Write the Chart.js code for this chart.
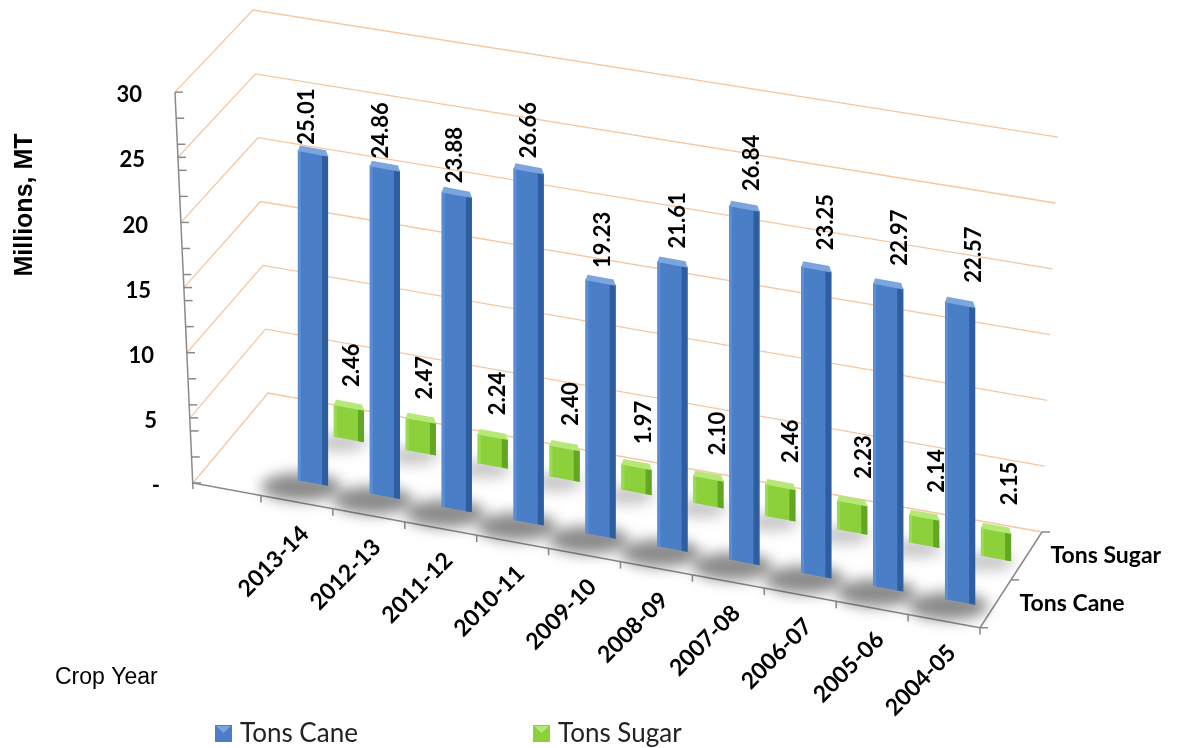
<!DOCTYPE html>
<html>
<head>
<meta charset="utf-8">
<title>Cane and sugar production by crop year</title>
<script src="https://cdn.jsdelivr.net/npm/chart.js@4.4.1/dist/chart.umd.min.js"></script>
<style>
  html, body { margin: 0; padding: 0; background: #fff; }
  canvas { display: block; }
</style>
</head>
<body>
<canvas id="chart" width="1184" height="748"></canvas>
<script>
"use strict";

var cropYears = ['2013-14', '2012-13', '2011-12', '2010-11', '2009-10',
                 '2008-09', '2007-08', '2006-07', '2005-06', '2004-05'];
var tonsCane  = [25.01, 24.86, 23.88, 26.66, 19.23, 21.61, 26.84, 23.25, 22.97, 22.57];
var tonsSugar = [2.46, 2.47, 2.24, 2.40, 1.97, 2.10, 2.46, 2.23, 2.14, 2.15];
var yMax = 30;
var yStep = 5;

var CANE = '#4A7EC6', CANE_SIDE = '#2F5E9E', CANE_TOP = '#7CA5DD', CANE_LIGHT = '#5A8ED4';
var SUGAR = '#8CD03C', SUGAR_SIDE = '#62A624', SUGAR_TOP = '#B6E878', SUGAR_LIGHT = '#9CDA52';
var GRID = '#F5C6A0', AXIS = '#8A8A8A';

var K = 0.184;          // slope of the floor on screen
var SUGAR_LIFT = 3.8;   // back row sits this many units higher
var FRONT_DROP = 22;    // front edge of the floor below the cane row
var EDGE_SHIFT = 34;    // front edge runs left of the category centres

function tickText(v) { return v === 0 ? '-' : String(v); }

// screen geometry of the box (walls, floor, front edge) built off the scales
function geo(chart) {
  var a = chart.chartArea;
  var ys = chart.scales.y;
  var w = (a.right - a.left) / chart.data.labels.length;
  var ax = a.left + w / 4;
  function u(v) { return a.bottom - ys.getPixelForValue(v); }
  return {
    a: a, w: w, ax: ax,
    front: function (v) { var h = u(v); return [a.left - 102 - 0.0455 * h, a.bottom - 0.987 * h]; },
    backL: function (v) { var h = u(v); return [a.left - 27 - 0.038 * h, a.bottom - 90 - 0.967 * h]; },
    backR: function (v) { var h = u(v); return [a.right + 28 + 0.04 * h, a.bottom + 49 - 0.997 * h]; },
    edgeY: function (x) { return a.bottom + FRONT_DROP + K * (x - ax); },
    sk: function (x, y) { return y + K * (x - ax); }
  };
}

function line(ctx, x1, y1, x2, y2) {
  ctx.beginPath(); ctx.moveTo(x1, y1); ctx.lineTo(x2, y2); ctx.stroke();
}

function decorateBar(ctx, el, side, top, light) {
  var l = el.x - el.width / 2, r = el.x + el.width / 2, t = el.y, b = el.base;
  ctx.fillStyle = side;
  ctx.fillRect(r - 6, t, 6, b - t);
  ctx.fillStyle = light;
  ctx.fillRect(l, t, 3, b - t);
  ctx.beginPath();
  ctx.moveTo(l, t + 1); ctx.lineTo(r, t + 1);
  ctx.lineTo(r - 2, t - 5); ctx.lineTo(l + 2, t - 5);
  ctx.closePath();
  ctx.fillStyle = top;
  ctx.fill();
}

var box3d = {
  id: 'box3d',
  beforeDatasetsDraw: function (chart) {
    var ctx = chart.ctx, g = geo(chart), a = g.a, ys = chart.scales.y;
    var n = chart.data.labels.length;

    ctx.save();
    // walls: one bent gridline per tick
    ctx.strokeStyle = GRID; ctx.lineWidth = 1.3;
    ys.ticks.forEach(function (t) {
      var f = g.front(t.value), l = g.backL(t.value), r = g.backR(t.value);
      ctx.beginPath(); ctx.moveTo(f[0], f[1]); ctx.lineTo(l[0], l[1]); ctx.lineTo(r[0], r[1]); ctx.stroke();
    });

    // value axis with its tick marks
    ctx.strokeStyle = AXIS; ctx.lineWidth = 1.5;
    var f0 = g.front(0), fT = g.front(ys.max);
    line(ctx, f0[0], f0[1] + 6, fT[0], fT[1]);
    for (var v = 0; v <= ys.max; v++) {
      if (v % 2 === 0 || v % yStep === 0) {
        var p = g.front(v);
        line(ctx, p[0], p[1], p[0] + 8, p[1]);
      }
    }

    // front edge of the floor and category ticks
    var xr = a.right - EDGE_SHIFT;
    line(ctx, f0[0], f0[1], xr, g.edgeY(xr));
    for (var j = 0; j <= n; j++) {
      var tx = a.left + j * g.w - EDGE_SHIFT, ty = g.edgeY(tx);
      line(ctx, tx, ty, tx, ty + 7);
    }
    // right edge (series depth) with its ticks
    var br = g.backR(0), fr = [xr, g.edgeY(xr)];
    var mid = [(fr[0] + br[0]) / 2, (fr[1] + br[1]) / 2];
    line(ctx, fr[0], fr[1], br[0], br[1]);
    [fr, mid, br].forEach(function (p) { line(ctx, p[0], p[1], p[0] + 8, p[1]); });

    // soft shadows on the floor
    ctx.filter = 'blur(7px)';
    chart.getDatasetMeta(1).data.forEach(function (el) {
      var by = g.sk(el.x, el.base);
      ctx.fillStyle = 'rgba(60,60,60,0.3)';
      ctx.beginPath(); ctx.ellipse(el.x - 8, by + 3, 26, 9, 0, 0, Math.PI * 2); ctx.fill();
    });
    chart.getDatasetMeta(0).data.forEach(function (el) {
      var by = g.sk(el.x, el.base);
      ctx.fillStyle = 'rgba(60,60,60,0.6)';
      ctx.beginPath(); ctx.ellipse(el.x - 12, by + 4, 40, 14, 0, 0, Math.PI * 2); ctx.fill();
    });
    ctx.filter = 'none';
    ctx.restore();

    // bars are drawn on the sloping floor
    ctx.save();
    ctx.transform(1, K, 0, 1, 0, -K * g.ax);
  },

  afterDatasetsDraw: function (chart) {
    var ctx = chart.ctx, g = geo(chart), a = g.a, ys = chart.scales.y;
    var caneMeta = chart.getDatasetMeta(0), sugarMeta = chart.getDatasetMeta(1);

    caneMeta.data.forEach(function (el) { decorateBar(ctx, el, CANE_SIDE, CANE_TOP, CANE_LIGHT); });
    sugarMeta.data.forEach(function (el) { decorateBar(ctx, el, SUGAR_SIDE, SUGAR_TOP, SUGAR_LIGHT); });
    ctx.restore();

    ctx.save();
    ctx.fillStyle = '#000';

    // value labels, turned upright
    ctx.font = 'bold 22px Lato';
    ctx.textAlign = 'left'; ctx.textBaseline = 'middle';
    function upright(text, x, y) {
      ctx.save(); ctx.translate(x, y); ctx.rotate(-Math.PI / 2); ctx.fillText(text, 0, 0); ctx.restore();
    }
    caneMeta.data.forEach(function (el, i) {
      upright(chart.data.datasets[0].data[i].toFixed(2), el.x - 6 + 2.2 * i, g.sk(el.x, el.y) - 8 - 1.5 * i);
    });
    sugarMeta.data.forEach(function (el, i) {
      upright(chart.data.datasets[1].data[i].toFixed(2), el.x + 3 + 1.2 * i, g.sk(el.x, el.y) - 20 - 0.55 * i);
    });

    // category labels along the front edge
    ctx.font = 'bold 23px Lato';
    ctx.textAlign = 'right'; ctx.textBaseline = 'middle';
    chart.data.labels.forEach(function (lab, i) {
      var cx = a.left + (i + 0.5) * g.w - EDGE_SHIFT, cy = g.edgeY(cx);
      ctx.save(); ctx.translate(cx + 8, cy + 28); ctx.rotate(-Math.PI / 4); ctx.fillText(lab, 0, 0); ctx.restore();
    });

    // value axis labels
    ctx.font = 'bold 22px Lato';
    ys.ticks.forEach(function (t) {
      var f = g.front(t.value);
      ctx.fillText(tickText(t.value), f[0] - 33, f[1] + 3);
    });

    // series names along the depth edge
    var xr = a.right - EDGE_SHIFT, fr = [xr, g.edgeY(xr)], br = g.backR(0);
    var mid = [(fr[0] + br[0]) / 2, (fr[1] + br[1]) / 2];
    ctx.font = 'bold 23px Lato';
    ctx.textAlign = 'left';
    ctx.fillText(chart.data.datasets[0].label, (fr[0] + mid[0]) / 2 + 24, (fr[1] + mid[1]) / 2);
    ctx.fillText(chart.data.datasets[1].label, (mid[0] + br[0]) / 2 + 24, (mid[1] + br[1]) / 2);

    // axis titles
    ctx.font = 'bold 25px "Liberation Sans"';
    ctx.textAlign = 'center';
    ctx.save(); ctx.translate(25, 205); ctx.rotate(-Math.PI / 2); ctx.fillText('Millions, MT', 0, 0); ctx.restore();
    ctx.font = '23px "Liberation Sans"';
    ctx.textAlign = 'left';
    ctx.fillText('Crop Year', 55, 678);

    // legend
    var legendX = [215, 533];
    var tops = [CANE_TOP, SUGAR_TOP];
    ctx.font = '26px Lato';
    chart.data.datasets.forEach(function (ds, d) {
      var x = legendX[d], y = 725;
      ctx.fillStyle = ds.backgroundColor;
      ctx.fillRect(x, y, 17, 17);
      ctx.fillStyle = tops[d];
      ctx.beginPath(); ctx.moveTo(x + 1, y + 1); ctx.lineTo(x + 16, y + 1); ctx.lineTo(x + 8.5, y + 8); ctx.closePath(); ctx.fill();
      ctx.fillStyle = '#222';
      ctx.fillText(ds.label, x + 25, y + 9);
    });
    ctx.restore();
  }
};

var ctx = document.getElementById('chart').getContext('2d');

var myChart = new Chart(ctx, {
  type: 'bar',
  data: {
    labels: cropYears,
    datasets: [
      { label: 'Tons Cane', data: tonsCane, backgroundColor: CANE, yAxisID: 'y',
        categoryPercentage: 1.0, barPercentage: 0.84, clip: false },
      { label: 'Tons Sugar', data: tonsSugar, backgroundColor: SUGAR, yAxisID: 'ySugar',
        categoryPercentage: 1.0, barPercentage: 0.84, clip: false }
    ]
  },
  options: {
    responsive: false,
    animation: false,
    layout: { padding: { left: 295, right: 170, top: 87, bottom: 265 } },
    scales: {
      x: { display: false, offset: true },
      y: { display: false, min: 0, max: yMax, ticks: { stepSize: yStep } },
      ySugar: { display: false, min: -SUGAR_LIFT, max: yMax - SUGAR_LIFT }
    },
    plugins: { legend: { display: false }, tooltip: { enabled: false } }
  },
  plugins: [box3d]
});
</script>
</body>
</html>
